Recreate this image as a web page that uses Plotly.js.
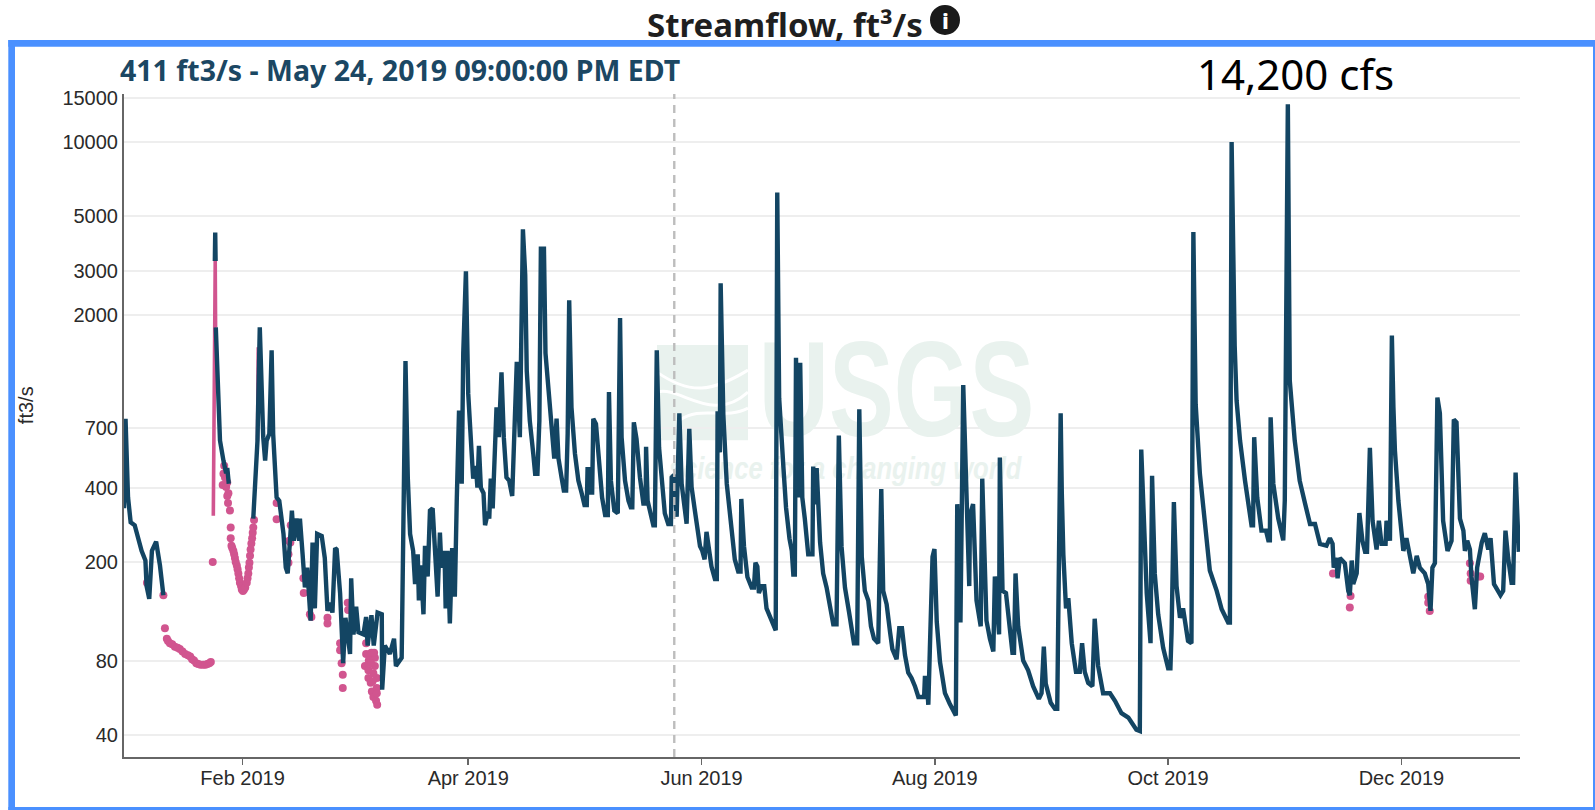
<!DOCTYPE html>
<html><head><meta charset="utf-8">
<script src="https://cdn.plot.ly/plotly-3.0.1.min.js"></script>
<style>html,body{margin:0;padding:0;background:#fff;overflow:hidden}#chart{width:1595px;height:810px}</style>
</head><body><div id="chart"></div>
<script>
// Day of 2019 (0 = Jan 1) and streamflow in ft3/s. null = gap in the approved record.
const flowDays = [
0,0.4,1.05,1.74,2.8,4.6,5.6,5.9,6.6,7.3,8.4,9.4,10.3,null,
23.75,23.85,23.95,null,24,25.1,26,26.7,27,27.4,null,
33.8,34.1,34.9,35.5,36.4,36.9,37.3,38,38.6,39,39.9,40.6,41.7,42.3,42.8,43.4,43.9,44.4,45.1,45.8,46,46.7,47.3,47.9,48.8,49.3,49.9,50.5,51.7,52.5,53.2,53.9,54.5,55.2,55.6,56.5,
57.3,57.9,59.1,59.4,60,60.7,61.3,62.6,63.3,63.7,64.7,65.3,66.3,67.4,67.5,68.2,69.5,70.6,71.1,72.6,
73.6,74.2,74.8,75.6,76.1,76.8,77.1,77.6,78.3,78.7,79.4,80,80.7,81.3,82,82.6,83,83.8,84.1,84.6,85.2,85.8,86.5,87,87.6,88.3,88.7,89.4,90,90.9,91.3,92,92.4,92.8,93.3,94,94.4,95.2,95.5,95.9,96.4,97,97.4,98,98.7,99.3,100,100.7,101.5,102.7,103.5,104.3,104.9,105.3,106.1,107,107.5,108.1,108.6,109,109.8,110.2,111,111.8,112.5,113.1,113.6,114.4,115,115.6,116,116.4,116.65,117,117.9,118.8,119.7,120.4,121,121.2,121.6,122,122.4,122.7,123.4,124.2,125,125.8,126.5,126.8,127.3,128.2,129.1,129.7,129.9,130.1,131,131.9,132.5,132.9,133.3,134,134.9,135.8,136.4,136.5,136.9,137.8,138.4,138.8,139.3,139.9,140.6,141.4,142.3,143,143.2,143.8,
144.5,145.2,145.8,146.4,147.1,147.8,148.4,149.3,149.9,150.6,151.2,151.8,152.3,153,153.6,154.5,155,155.2,155.8,156,156.3,156.7,157.6,158.3,159.05,159.7,160.6,161.2,161.4,162.1,163,164.1,164.7,165.1,165.6,166,166.7,167.4,168,168.7,169.6,170.4,170.8,171.05,171.3,172.4,173.1,174,174.6,175,175.4,175.7,176.3,176.8,177.35,178,178.9,180,180.2,180.75,181.1,182,182.8,183.7,184.6,185.45,186.3,186.9,187.6,188.5,189.55,190.25,190.85,191.7,192.25,192.9,193.7,194.6,195.3,196.1,197.2,197.65,198,198.5,199.4,200.3,200.9,202,202.7,203.4,204.2,205.05,205.9,206.8,207.7,209.2,209.4,209.85,210.3,210.7,211.4,211.9,212.5,213.35,214.65,215.9,217.5,
217.86,218.7,219.43,220.4,221,221.2,222,222.9,224,224.4,225.5,226.4,227.3,227.7,228.8,229,229.7,230.6,231.6,232.3,232.7,233.1,233.8,235.1,236.4,237.7,239.2,239.9,240.5,241,242.3,243.4,244,244.5,244.9,245.2,245.6,246.3,246.9,247.8,248.9,249.9,250.5,251.2,252.1,253.2,253.8,254.7,256,257.8,259.1,260.8,262.6,264.7,265.6,265.97,266.7,267.4,268.4,268.8,269.5,270.4,271.7,273,273.6,273.9,274.5,275.2,276.1,276.9,278.2,279.1,279.6,279.95,280.2,281.3,282.6,283.9,285.7,287,288.7,289.15,289.6,290,290.4,290.9,291.8,293.1,294,294.8,295.2,295.5,296.3,297.4,298.6,299.2,299.6,299.8,300.5,301.8,303.1,303.5,304.3,304.55,304.8,306.1,307.4,308.8,310.1,311.4,312.7,314.4,315.3,316,316.3,317,317.3,317.9,319.2,320.1,320.5,321,321.4,322.3,323,323.8,324.5,325,325.75,326.45,327.5,328.1,328.8,329.85,330.1,331,331.5,331.9,332.3,333.2,334.5,335.3,336.2,337.1,338,338.8,340.1,341,341.6,342.1,342.75,343.4,344.05,344.9,346.05,347.1,347.7,348.4,349.3,350.2,350.6,351.2,351.9,352.3,353.2,353.8,355,355.8,356.7,357.3,358.2,358.9,359.9,360.6,361.2,361.9,362.8,363.2,363.85,364.7
];
const flowValues = [
330,760,366,290,282,222,203,160,142,222,242,194,147,null,
3300,4300,3300,null,1780,620,515,457,480,415,null,
300,370,620,1780,640,515,620,660,1436,660,365,354,260,190,180,244,323,244,300,244,300,215,158,190,116,240,130,260,255,208,127,137,125,228,225,150,
78,119,85,172,102,132,104,102,120,92,122,92,125,123,61,92,85,98,76,82,
1300,440,260,222,163,215,140,194,123,233,175,323,330,225,145,263,190,222,130,222,113,228,145,354,820,415,1400,3000,960,550,435,490,400,590,400,380,282,320,300,435,330,580,845,640,1170,640,440,427,370,1290,640,4430,2900,1190,745,550,455,455,745,3700,3700,1400,960,680,525,760,525,440,389,389,660,2290,1250,845,550,427,378,340,340,475,475,382,382,760,725,480,365,310,310,975,427,323,315,1940,950,640,427,354,333,333,735,630,440,345,345,585,354,300,282,282,1436,580,415,315,285,285,440,450,
305,800,415,342,286,692,402,320,277,232,222,205,265,218,192,171,171,815,555,2680,1400,790,415,332,249,205,183,183,360,232,174,158,158,199,192,150,160,160,130,122,112,106,6250,2200,920,487,332,249,222,178,178,1340,365,1280,365,300,215,215,487,342,480,240,180,158,130,112,112,650,232,158,126,104,94,94,830,210,153,140,110,98,94,215,395,153,135,104,89,81,108,108,84,71.5,68,63,57,57,68,68,53,89,210,226,115,79,59,53.5,48,
343,114,1040,270,160,310,343,140,110,435,116,98,87,175,102,530,153,150,102,86,86,180,110,80,73,63,56,59,91,64.5,54,51,51,250,800,380,215,130,143,94,72,72,94,72,65,63,118,76,59,59,55,49,47,42,41.5,570,276,150,94,447,180,123,90,74.5,74.5,104,350,160,119,130,96,94,4320,1500,870,455,276,185,153,129,114,114,10000,3000,1500,900,620,427,345,282,282,640,365,268,268,245,245,770,415,300,245,354,14200,3000,1085,620,427,345,285,285,237,233,250,237,190,208,172,208,198,153,147,203,163,180,316,244,220,220,580,294,225,294,237,237,294,244,1650,850,565,354,222,250,215,180,212,190,180,163,127,190,198,925,800,294,222,244,755,735,300,268,222,244,225,175,129,190,240,262,225,250,163,155,147,153,268,208,165,165,460,220
];
// Provisional / flagged readings drawn as dots
const flagDays = [
6.0,10.3,10.7,11.2,11.5,12,12.6,13.3,14,14.6,15.3,16,16.7,17.3,17.8,18.3,18.9,19.4,20,20.7,21.3,21.8,22.3,22.7,23.2,
26.2,26,25.8,26.7,26.4,27,26.6,27.3,27,27.2,27.7,27.9,27.9,28.1,28.3,28.6,28.8,29,29.2,29.5,29.7,29.9,30.1,30.3,30.6,30.8,31.1,31.4,31.7,32.1,32.3,32.5,32.65,32.8,32.95,33.1,33.3,33.5,33.65,33.8,34,
39.9,39.9,43.6,43.2,43.5,43,43,46.9,47,49.2,48.6,49,53.2,53.2,58.5,58.6,56.5,56.5,56.9,57.2,57.2,
63.3,63.3,63,63.9,63.9,64.5,64.8,65.2,65.9,66.2,64.3,65.6,65.6,66.1,65.2,66.1,66.1,64.7,65.4,64,64.6,65,
316.1,320.7,320.5,341,341,341.4,351.9,352.1,352.1,354.1,354.6
];
const flagValues = [
165,147,108,98,96,94,93,91,90,89,87,85,84,83,81,80,78,77.5,77,77,77,77.5,78,79,200,
490,455,410,402,440,420,455,380,370,347,323,276,250,233,228,222,215,208,200,194,187,180,172,165,160,155,153,155,158,165,172,180,190,199,212,225,238,250,263,276,296,
347,298,282,244,240,215,199,172,150,180,123,120,119,113,137,128,94,88,78,70,62,
94,85,76,73,68,65,60,57,55,53,85,82,76,68,71,62,59,86,86,80,78,66,
180,146,131,145,137,127,198,180,168,175,175
];
const flagLineDays = [23.35,23.75,23.85,23.95,null,34.9,35.1];
const flagLineValues = [308,3300,3300,1780,null,620,1480];
// Axis labels
const yTickValues = [15000,10000,5000,3000,2000,700,400,200,80,40];
const xTickDates = ['2019-02-01','2019-04-01','2019-06-01','2019-08-01','2019-10-01','2019-12-01'];
const xTickLabels = ['Feb 2019','Apr 2019','Jun 2019','Aug 2019','Oct 2019','Dec 2019'];
const markerDate = '2019-05-24 21:00';

const toDate = d => d === null ? null : new Date(Date.UTC(2019,0,1) + d*864e5).toISOString();

// Layout geometry in page pixels
const W=1595,H=810,L=124,R=1520,T=94,B=756.7;
const px=x=>(x-L)/(R-L), py=y=>(B-y)/(B-T);
const rectShape=(x0,y0,x1,y1,c,layer)=>({type:'rect',xref:'paper',yref:'paper',x0:px(x0),x1:px(x1),y0:py(y0),y1:py(y1),fillcolor:c,line:{width:0},layer:layer||'above'});
const wave=(pts,w)=>({type:'path',xref:'paper',yref:'paper',layer:'below',line:{color:'#ffffff',width:w},
  path:'M'+px(pts[0])+','+py(pts[1])+' C'+px(pts[2])+','+py(pts[3])+' '+px(pts[4])+','+py(pts[5])+' '+px(pts[6])+','+py(pts[7])});
const note=(text,x,y,font,extra)=>Object.assign({text:text,xref:'paper',yref:'paper',x:px(x),y:py(y),showarrow:false,
  font:font,xanchor:'left',yanchor:'middle'},extra||{});

const FRAME='#4a90ff', WM='#e9f2ee', SANS='"Noto Sans",sans-serif';
const traces=[
 {type:'scatter',mode:'text',x:[toDate(202)],y:[885],text:['USGS'],textposition:'middle center',cliponaxis:false,hoverinfo:'skip',showlegend:false,
  textfont:{family:'"Liberation Sans",sans-serif',size:135,color:WM,weight:700}},
 {type:'scatter',mode:'text',x:[toDate(188.5)],y:[469],text:['<i>science for a changing world</i>'],textposition:'middle center',hoverinfo:'skip',showlegend:false,
  textfont:{family:'"Liberation Sans",sans-serif',size:32,color:WM,weight:700}},
 {type:'scatter',mode:'lines',x:flagLineDays.map(toDate),y:flagLineValues,line:{color:'#d1558f',width:3.6},connectgaps:false,hoverinfo:'skip',showlegend:false},
 {type:'scatter',mode:'markers',x:flagDays.map(toDate),y:flagValues,marker:{color:'#d1558f',size:8,line:{width:0}},showlegend:false},
 {type:'scatter',mode:'lines',x:flowDays.map(toDate),y:flowValues,line:{color:'#134563',width:4.4,shape:'linear'},connectgaps:false,showlegend:false}
];
const layout={
 width:W,height:H,margin:{l:L,r:W-R,t:T,b:H-B,pad:0},paper_bgcolor:'#fff',plot_bgcolor:'rgba(0,0,0,0)',showlegend:false,
 font:{family:'"Liberation Sans",Arial,sans-serif',color:'#222'},
 xaxis:{type:'date',range:['2019-01-01','2020-01-01'],tickmode:'array',tickvals:xTickDates,ticktext:xTickLabels,ticks:'outside',ticklen:6,tickwidth:1.5,tickcolor:'#666',ticklabelstandoff:-4,
   showgrid:false,showline:true,linecolor:'#666',linewidth:2,zeroline:false,tickfont:{size:20,color:'#2a2a2a'}},
 yaxis:{type:'log',range:[1.513,4.1938],tickmode:'array',tickvals:yTickValues,ticktext:yTickValues.map(String),ticks:'',showgrid:true,gridcolor:'#eeeeee',gridwidth:2,
   showline:true,linecolor:'#666',linewidth:2,zeroline:false,tickfont:{size:20,color:'#2a2a2a'}},
 shapes:[
  rectShape(657,345,748,440,WM,'below'),
  wave([657,372,690,395,712,392,748,370],3),
  wave([657,392,680,385,712,425,748,392],3),
  wave([680,420,700,405,725,420,748,408],3),
  {type:'line',xref:'x',yref:'paper',x0:markerDate,x1:markerDate,y0:0,y1:1,line:{color:'#bdbdbd',width:2.4,dash:'8px,6px'},layer:'above'},
  rectShape(8.3,40,15,810,FRAME),
  rectShape(8.3,40,1595,46.7,FRAME),
  rectShape(1593,40,1595,810,FRAME),
  rectShape(8.3,806.7,1595,810,FRAME),
  {type:'circle',xref:'paper',yref:'paper',x0:px(930),x1:px(960),y0:py(5),y1:py(35),fillcolor:'#1a1a1a',line:{width:0},layer:'above'}
 ],
 annotations:[
  note('Streamflow, ft³/s',645,25,{size:33,color:'#1f1f1f',family:SANS,weight:700}),
  note('i',945,20,{size:22,color:'#fff',family:SANS,weight:800},{xanchor:'center'}),
  note('411 ft3/s - May 24, 2019 09:00:00 PM EDT',118,70,{size:28.5,color:'#1b4763',family:SANS,weight:700}),
  note('14,200 cfs',1195,74,{size:42,color:'#000',family:SANS}),
  note('ft3/s',26,405,{size:20,color:'#2a2a2a',family:'"Liberation Sans",sans-serif'},{xanchor:'center',textangle:-90})
 ]
};
Plotly.newPlot('chart',traces,layout,{displayModeBar:false,staticPlot:true}).then(()=>{
  // Condense the watermark text, which is a heavy narrow face in the original
  document.querySelectorAll('.textpoint text').forEach(t=>{
    const usgs = t.textContent === 'USGS';
    t.style.transformBox='fill-box';
    t.style.transformOrigin='center';
    t.style.transform = usgs ? 'scaleX(0.72)' : 'scaleX(0.8)';
  });
});
</script></body></html>
